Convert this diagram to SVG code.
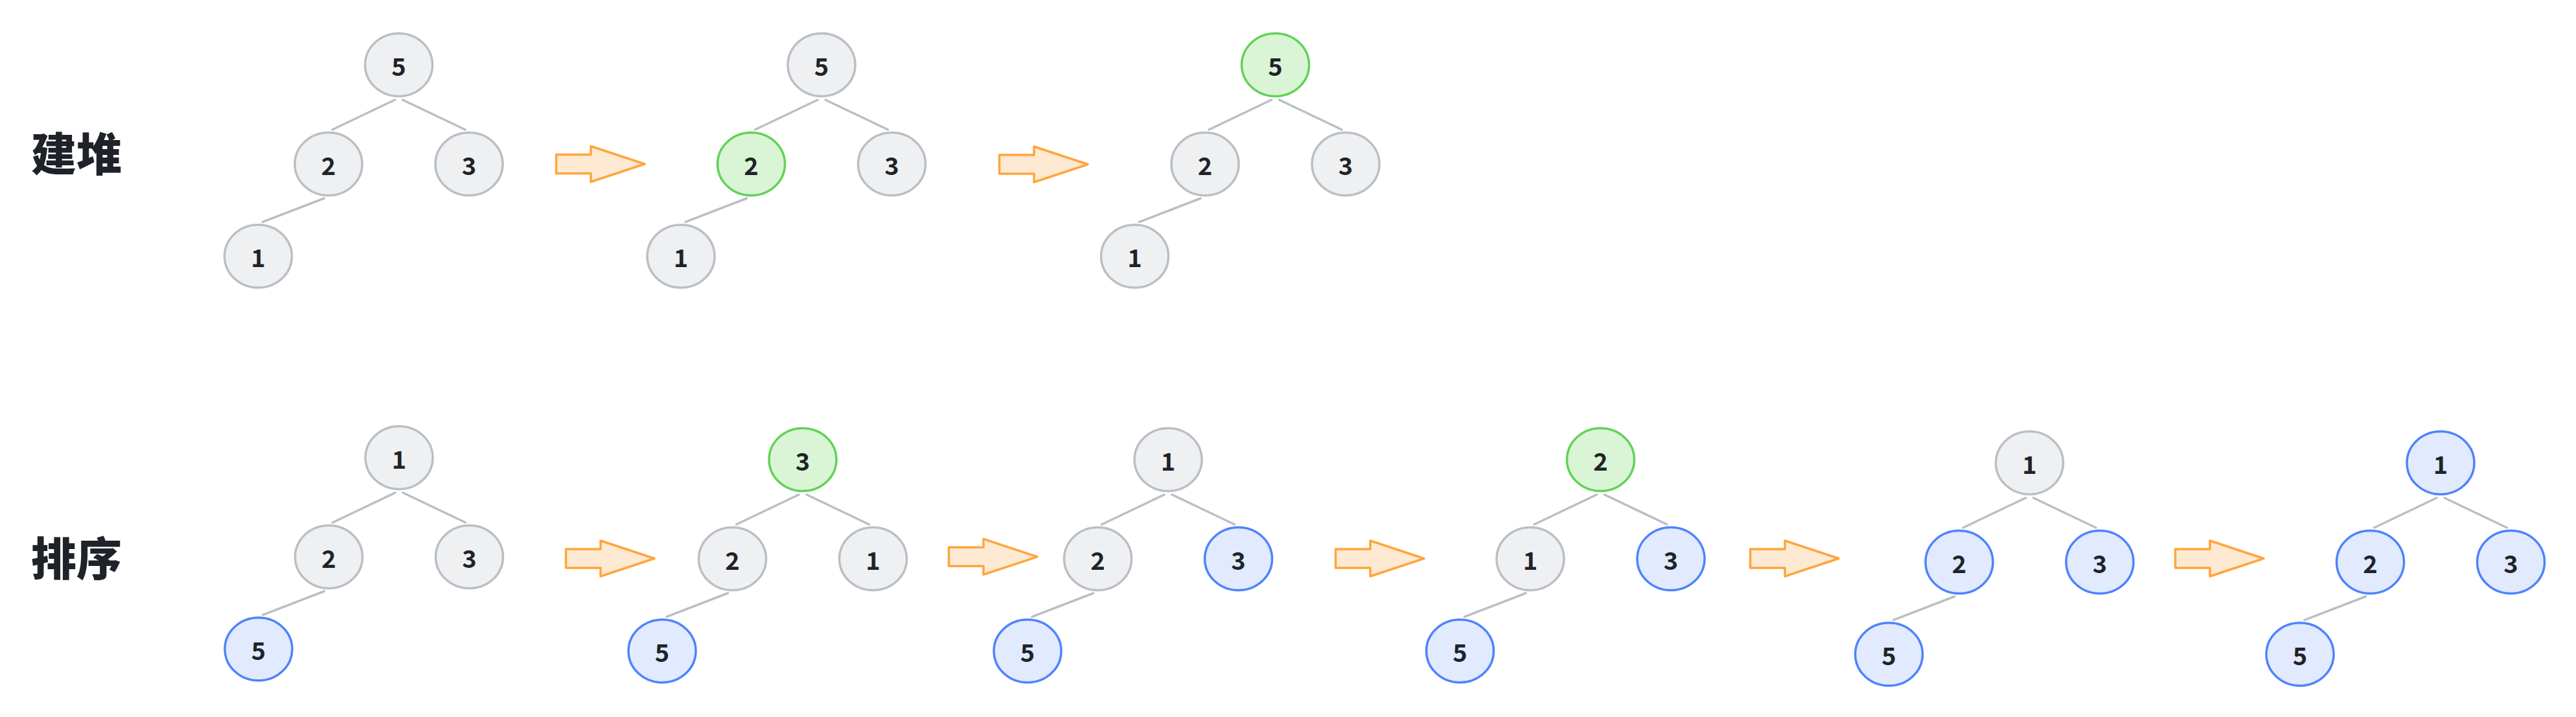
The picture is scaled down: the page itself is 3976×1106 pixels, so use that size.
<svg xmlns="http://www.w3.org/2000/svg" xmlns:xlink="http://www.w3.org/1999/xlink" width="3976" height="1106" viewBox="0 0 3976 1106">
<style>
  ellipse { stroke-width: 3.5; }
  .gray ellipse { fill: #eff0f1; stroke: #bbbfc4; }
  .green ellipse { fill: #d9f5d6; stroke: #62d256; }
  .blue ellipse { fill: #e1eaff; stroke: #4e83fd; }
  .node text { font-family: "Noto Sans CJK SC", "Noto Sans", sans-serif; font-size: 38px; font-weight: 700; fill: #1f2329; text-anchor: middle; }
  .title { font-family: "Noto Sans CJK SC", sans-serif; font-size: 70px; font-weight: 900; fill: #1f2329; }
  #connectors path { fill: none; stroke: #bbbfc4; stroke-width: 3.5; stroke-linecap: round; }
  .arrow { fill: #feead2; stroke: #ffa53d; stroke-width: 3.5; stroke-linejoin: round; }
</style>
<defs>
  <polygon id="arr" points="1.5,-14.5 55,-14.5 55,-27.5 138,0 55,27.5 55,14.5 1.5,14.5"/>
</defs>
<rect width="3976" height="1106" fill="#ffffff"/>

<text class="title" x="48" y="264">建堆</text>
<text class="title" x="48" y="888">排序</text>

<g id="connectors">
  <path d="M609.5,154 l-96.5,46 M621.5,154 l96.5,46 M500,306 l-94.5,36.3"/>
  <path d="M1262,154 l-96.5,46 M1274,154 l96.5,46 M1152.5,306 l-94.5,36.3"/>
  <path d="M1962.5,154 l-96.5,46 M1974.5,154 l96.5,46 M1853,306 l-94.5,36.3"/>
  <path d="M610,760 l-96.5,46 M622,760 l96.5,46 M500.5,912 l-94.5,36.3"/>
  <path d="M1233,763 l-96.5,46 M1245,763 l96.5,46 M1123.5,915 l-94.5,36.3"/>
  <path d="M1797,763 l-96.5,46 M1809,763 l96.5,46 M1687.5,915 l-94.5,36.3"/>
  <path d="M2464.5,763 l-96.5,46 M2476.5,763 l96.5,46 M2355,915 l-94.5,36.3"/>
  <path d="M3126.5,768 l-96.5,46 M3138.5,768 l96.5,46 M3017,920 l-94.5,36.3"/>
  <path d="M3761,768 l-96.5,46 M3773,768 l96.5,46 M3651.5,920 l-94.5,36.3"/>
</g>

<g id="arrows">
  <use xlink:href="#arr" href="#arr" class="arrow" transform="translate(857,253)"/>
  <use xlink:href="#arr" href="#arr" class="arrow" transform="translate(1541,253.5)"/>
  <use xlink:href="#arr" href="#arr" class="arrow" transform="translate(872,861.5)"/>
  <use xlink:href="#arr" href="#arr" class="arrow" transform="translate(1463,858.8)"/>
  <use xlink:href="#arr" href="#arr" class="arrow" transform="translate(2060,861.5)"/>
  <use xlink:href="#arr" href="#arr" class="arrow" transform="translate(2700,861.5)"/>
  <use xlink:href="#arr" href="#arr" class="arrow" transform="translate(3356,861.5)"/>
</g>

<!-- Build heap: tree 1 -->
<g id="t1-root" class="node gray"><ellipse cx="615.5" cy="100" rx="52" ry="48.5"/><text x="615.5" y="116.5">5</text></g>
<g id="t1-l" class="node gray"><ellipse cx="507" cy="253" rx="52" ry="48.5"/><text x="507" y="269.5">2</text></g>
<g id="t1-r" class="node gray"><ellipse cx="724" cy="253" rx="52" ry="48.5"/><text x="724" y="269.5">3</text></g>
<g id="t1-ll" class="node gray"><ellipse cx="398.5" cy="395.3" rx="52" ry="48.5"/><text x="398.5" y="411.8">1</text></g>

<!-- tree 2 -->
<g id="t2-root" class="node gray"><ellipse cx="1268" cy="100" rx="52" ry="48.5"/><text x="1268" y="116.5">5</text></g>
<g id="t2-l" class="node green"><ellipse cx="1159.5" cy="253" rx="52" ry="48.5"/><text x="1159.5" y="269.5">2</text></g>
<g id="t2-r" class="node gray"><ellipse cx="1376.5" cy="253" rx="52" ry="48.5"/><text x="1376.5" y="269.5">3</text></g>
<g id="t2-ll" class="node gray"><ellipse cx="1051" cy="395.3" rx="52" ry="48.5"/><text x="1051" y="411.8">1</text></g>

<!-- tree 3 -->
<g id="t3-root" class="node green"><ellipse cx="1968.5" cy="100" rx="52" ry="48.5"/><text x="1968.5" y="116.5">5</text></g>
<g id="t3-l" class="node gray"><ellipse cx="1860" cy="253" rx="52" ry="48.5"/><text x="1860" y="269.5">2</text></g>
<g id="t3-r" class="node gray"><ellipse cx="2077" cy="253" rx="52" ry="48.5"/><text x="2077" y="269.5">3</text></g>
<g id="t3-ll" class="node gray"><ellipse cx="1751.5" cy="395.3" rx="52" ry="48.5"/><text x="1751.5" y="411.8">1</text></g>

<!-- Sort: tree A -->
<g id="a-root" class="node gray"><ellipse cx="616" cy="706" rx="52" ry="48.5"/><text x="616" y="722.5">1</text></g>
<g id="a-l" class="node gray"><ellipse cx="507.5" cy="859" rx="52" ry="48.5"/><text x="507.5" y="875.5">2</text></g>
<g id="a-r" class="node gray"><ellipse cx="724.5" cy="859" rx="52" ry="48.5"/><text x="724.5" y="875.5">3</text></g>
<g id="a-ll" class="node blue"><ellipse cx="399" cy="1001.3" rx="52" ry="48.5"/><text x="399" y="1017.8">5</text></g>

<!-- tree B -->
<g id="b-root" class="node green"><ellipse cx="1239" cy="709" rx="52" ry="48.5"/><text x="1239" y="725.5">3</text></g>
<g id="b-l" class="node gray"><ellipse cx="1130.5" cy="862" rx="52" ry="48.5"/><text x="1130.5" y="878.5">2</text></g>
<g id="b-r" class="node gray"><ellipse cx="1347.5" cy="862" rx="52" ry="48.5"/><text x="1347.5" y="878.5">1</text></g>
<g id="b-ll" class="node blue"><ellipse cx="1022" cy="1004.3" rx="52" ry="48.5"/><text x="1022" y="1020.8">5</text></g>

<!-- tree C -->
<g id="c-root" class="node gray"><ellipse cx="1803" cy="709" rx="52" ry="48.5"/><text x="1803" y="725.5">1</text></g>
<g id="c-l" class="node gray"><ellipse cx="1694.5" cy="862" rx="52" ry="48.5"/><text x="1694.5" y="878.5">2</text></g>
<g id="c-r" class="node blue"><ellipse cx="1911.5" cy="862" rx="52" ry="48.5"/><text x="1911.5" y="878.5">3</text></g>
<g id="c-ll" class="node blue"><ellipse cx="1586" cy="1004.3" rx="52" ry="48.5"/><text x="1586" y="1020.8">5</text></g>

<!-- tree D -->
<g id="d-root" class="node green"><ellipse cx="2470.5" cy="709" rx="52" ry="48.5"/><text x="2470.5" y="725.5">2</text></g>
<g id="d-l" class="node gray"><ellipse cx="2362" cy="862" rx="52" ry="48.5"/><text x="2362" y="878.5">1</text></g>
<g id="d-r" class="node blue"><ellipse cx="2579" cy="862" rx="52" ry="48.5"/><text x="2579" y="878.5">3</text></g>
<g id="d-ll" class="node blue"><ellipse cx="2253.5" cy="1004.3" rx="52" ry="48.5"/><text x="2253.5" y="1020.8">5</text></g>

<!-- tree E -->
<g id="e-root" class="node gray"><ellipse cx="3132.5" cy="714" rx="52" ry="48.5"/><text x="3132.5" y="730.5">1</text></g>
<g id="e-l" class="node blue"><ellipse cx="3024" cy="867" rx="52" ry="48.5"/><text x="3024" y="883.5">2</text></g>
<g id="e-r" class="node blue"><ellipse cx="3241" cy="867" rx="52" ry="48.5"/><text x="3241" y="883.5">3</text></g>
<g id="e-ll" class="node blue"><ellipse cx="2915.5" cy="1009.3" rx="52" ry="48.5"/><text x="2915.5" y="1025.8">5</text></g>

<!-- tree F -->
<g id="f-root" class="node blue"><ellipse cx="3767" cy="714" rx="52" ry="48.5"/><text x="3767" y="730.5">1</text></g>
<g id="f-l" class="node blue"><ellipse cx="3658.5" cy="867" rx="52" ry="48.5"/><text x="3658.5" y="883.5">2</text></g>
<g id="f-r" class="node blue"><ellipse cx="3875.5" cy="867" rx="52" ry="48.5"/><text x="3875.5" y="883.5">3</text></g>
<g id="f-ll" class="node blue"><ellipse cx="3550" cy="1009.3" rx="52" ry="48.5"/><text x="3550" y="1025.8">5</text></g>
</svg>
